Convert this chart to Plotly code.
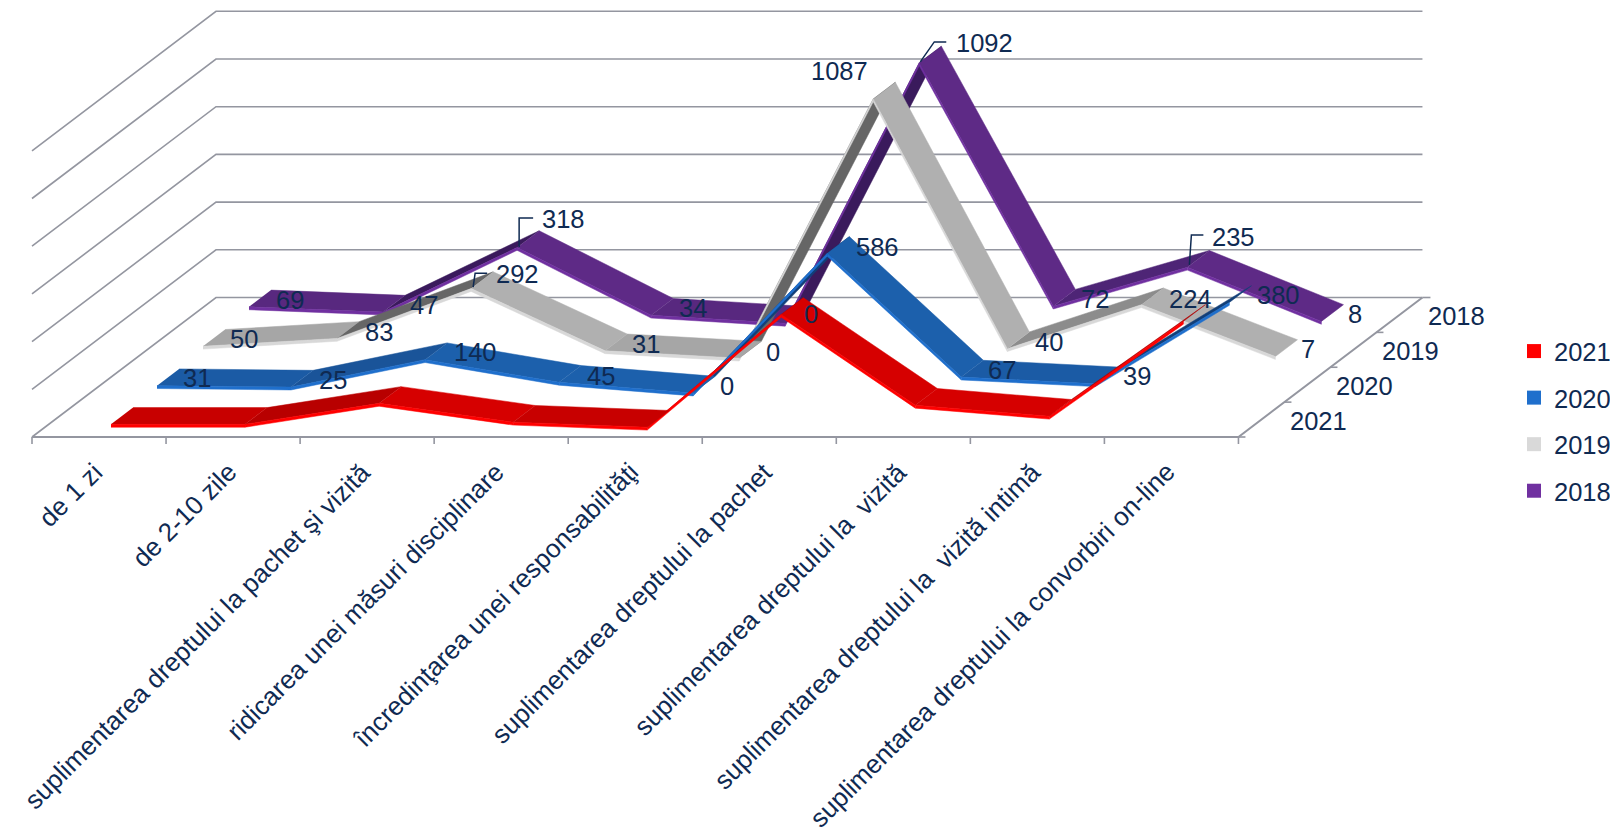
import plotly.graph_objects as go

categories = ["de 1 zi", "de 2-10 zile", "suplimentarea dreptului la pachet şi vizită",
              "ridicarea unei măsuri disciplinare", "încredinţarea unei responsabilităţi",
              "suplimentarea dreptului la pachet", "suplimentarea dreptului la\u00a0 vizită",
              "suplimentarea dreptului la\u00a0 vizită intimă",
              "suplimentarea dreptului la convorbiri on-line"]
years = ["2021", "2020", "2019", "2018"]
values_2021 = [15, 15, 103, 24, 3, 476, 95, 49, 447]
values_2020 = [31, 25, 140, 45, 0, 586, 67, 39, 380]
values_2019 = [50, 83, 292, 31, 0, 1087, 40, 224, 7]
values_2018 = [69, 47, 318, 34, 0, 1092, 72, 235, 8]
grid_values = [0, 200, 400, 600, 800, 1000, 1200]

PAGE_MARGIN = 8      # the browser's default body margin
W, H = 1618 - PAGE_MARGIN, 833 - PAGE_MARGIN
PX_CAT = 134.05      # px per category
PX_UNIT = 47.7 / 200 # px per value unit
DX = 46 / PX_CAT     # oblique shift per series (category units)
DY = 34.875 / PX_UNIT
HW = 0.24            # half ribbon width, in series units
THICK = 12           # ribbon edge thickness, value units
LEFT, BASE = 32 - PAGE_MARGIN, 437 - PAGE_MARGIN
NAVY = "#0F2A52"
GRID = "#9496A0"
FONT = "Liberation Sans, Arial, sans-serif"


def proj(i, d, v):
    return i + d * DX, v + d * DY


def pxdx(p):
    return p / PX_CAT


def pxdy(p):
    return p / PX_UNIT


STYLE = {
    "2021": dict(d=0.5, vals=values_2021, leg="#FF0000", edge="#FF0000",
                 rise="#B00000", mid="#B80000", flat="#C80000", fall="#D60000"),
    "2020": dict(d=1.5, vals=values_2020, leg="#1F6FCC", edge="#1F6FCC",
                 rise="#123F78", mid="#1A5499", flat="#1B5BA5", fall="#1C60AC"),
    "2019": dict(d=2.5, vals=values_2019, leg="#D9D9D9", edge="#D8D8D8",
                 rise="#666666", mid="#8C8C8C", flat="#A6A6A6", fall="#B0B0B0"),
    "2018": dict(d=3.5, vals=values_2018, leg="#7030A0", edge="#7030A0",
                 rise="#3A1A5C", mid="#4E2576", flat="#58287F", fall="#5E2A86"),
}

# label offsets from the point, px (right, down)
label_shift = {
    "2018": [(30, 1.5), (30, 1), (35, -20), (31, 1), (15, -1), (54, -12), (31, 1), (35, -22), (23, 1)],
    "2019": [(30, 1), (31, 2), (35, -6), (30, 1.6), (23, 2), (-45, -20), (31, 1.7), (38, 2.6), (22, 1)],
    "2020": [(29, .7), (31, 1.3), (39, .7), (31, 2), (23, 1.3), (39, 2), (30, 1.3), (31, .6), (38, 1)],
}
# leader lines: year, index, px offsets from the point (right, down)
leaders = [
    ("2018", 2, [(-9, 8), (-9, -21), (5, -21)]),
    ("2019", 2, [(-9, 7), (-7, -7), (5, -7)]),
    ("2018", 5, [(-10, 7.4), (4, -12.6), (16, -12.6)]),
    ("2018", 7, [(-9, 6), (-7, -24), (5, -24)]),
]
DEPTH_LABEL_SHIFT = 57.5

fig = go.Figure()


def line(pts, color=GRID, width=1.6):
    fig.add_trace(go.Scatter(x=[p[0] for p in pts], y=[p[1] for p in pts], mode="lines",
                             line=dict(color=color, width=width), showlegend=False, hoverinfo="skip"))


def poly(pts, color):
    fig.add_trace(go.Scatter(x=[p[0] for p in pts], y=[p[1] for p in pts], mode="lines", fill="toself",
                             fillcolor=color, line=dict(color=color, width=0.5),
                             showlegend=False, hoverinfo="skip"))


n = len(categories)
# walls / floor
for g in grid_values:
    line([proj(0, 0, g), proj(0, 4, g), proj(n, 4, g)])
line([proj(0, 0, 0), proj(n, 0, 0), proj(n, 4, 0)], width=2)
line([proj(n, 4, 0), (proj(n, 4, 0)[0] + pxdx(8), proj(n, 4, 0)[1])])
for i in range(n + 1):
    line([proj(i, 0, 0), proj(i, 0, -pxdy(7))])
for d in range(4):
    p = proj(n, d, 0)
    line([p, (p[0] + pxdx(7), p[1])])

# ribbons, back to front
for yr in ["2018", "2019", "2020", "2021"]:
    s = STYLE[yr]
    d, vals = s["d"], s["vals"]
    segs = list(range(n - 1))
    # rising faces first so that the falling ones cover them at the peaks
    segs.sort(key=lambda k: vals[k + 1] <= vals[k])
    for k in segs:
        dv = vals[k + 1] - vals[k]
        col = s["rise"] if dv >= 200 else s["mid"] if dv >= 40 else s["fall"] if dv <= -40 else s["flat"]
        a, b = k + 0.5, k + 1.5
        poly([proj(a, d - HW, vals[k]), proj(b, d - HW, vals[k + 1]),
              proj(b, d + HW, vals[k + 1]), proj(a, d + HW, vals[k])], col)
        poly([proj(a, d - HW, vals[k]), proj(b, d - HW, vals[k + 1]),
              proj(b, d - HW, vals[k + 1] - THICK), proj(a, d - HW, vals[k] - THICK)], s["edge"])

# leader lines
for yr, i, offs in leaders:
    s = STYLE[yr]
    x0, y0 = proj(i + 0.5, s["d"], s["vals"][i])
    line([(x0 + pxdx(a), y0 - pxdy(b)) for a, b in offs], color=NAVY, width=1.5)

# legend entries
for yr in years:
    fig.add_trace(go.Scatter(x=[None], y=[None], mode="markers", name=yr, legendgroup=yr,
                             marker=dict(symbol="square", size=14, color=STYLE[yr]["leg"])))

ann = []
TXT = dict(size=25.5, color=NAVY, family=FONT)
for yr, shifts in label_shift.items():
    s = STYLE[yr]
    for i, v in enumerate(s["vals"]):
        x0, y0 = proj(i + 0.5, s["d"], v)
        ann.append(dict(x=x0, y=y0, text=str(v), showarrow=False, font=TXT, xanchor="center", yanchor="middle",
                        xshift=shifts[i][0], yshift=-shifts[i][1]))
for yr in years:
    x0, y0 = proj(n, STYLE[yr]["d"], 0)
    ann.append(dict(x=x0, y=y0, text=yr, showarrow=False, font=TXT, xanchor="center", yanchor="middle",
                    xshift=DEPTH_LABEL_SHIFT, yshift=-1))
for i, c in enumerate(categories):
    ann.append(dict(x=i + 0.5, y=0, text=c, showarrow=False, textangle=-45, xanchor="right", yanchor="top",
                    xshift=12, yshift=-17, font=dict(size=26, color=NAVY, family=FONT)))

fig.update_layout(
    width=W, height=H, autosize=False,
    margin=dict(l=0, r=0, t=0, b=0), paper_bgcolor="white", plot_bgcolor="white",
    xaxis=dict(range=[-LEFT / PX_CAT, (W - LEFT) / PX_CAT], visible=False, fixedrange=True),
    yaxis=dict(range=[-(H - BASE) / PX_UNIT, BASE / PX_UNIT], visible=False, fixedrange=True),
    annotations=ann,
    font=dict(family=FONT, color=NAVY),
    legend=dict(x=1506 / W, y=1 - 320 / H, xanchor="left", yanchor="top", bgcolor="rgba(0,0,0,0)",
                font=dict(size=25.5, color=NAVY, family=FONT), tracegroupgap=10.4, itemclick=False, itemdoubleclick=False),
)
fig.write_html("out.html", config=dict(displayModeBar=False))
